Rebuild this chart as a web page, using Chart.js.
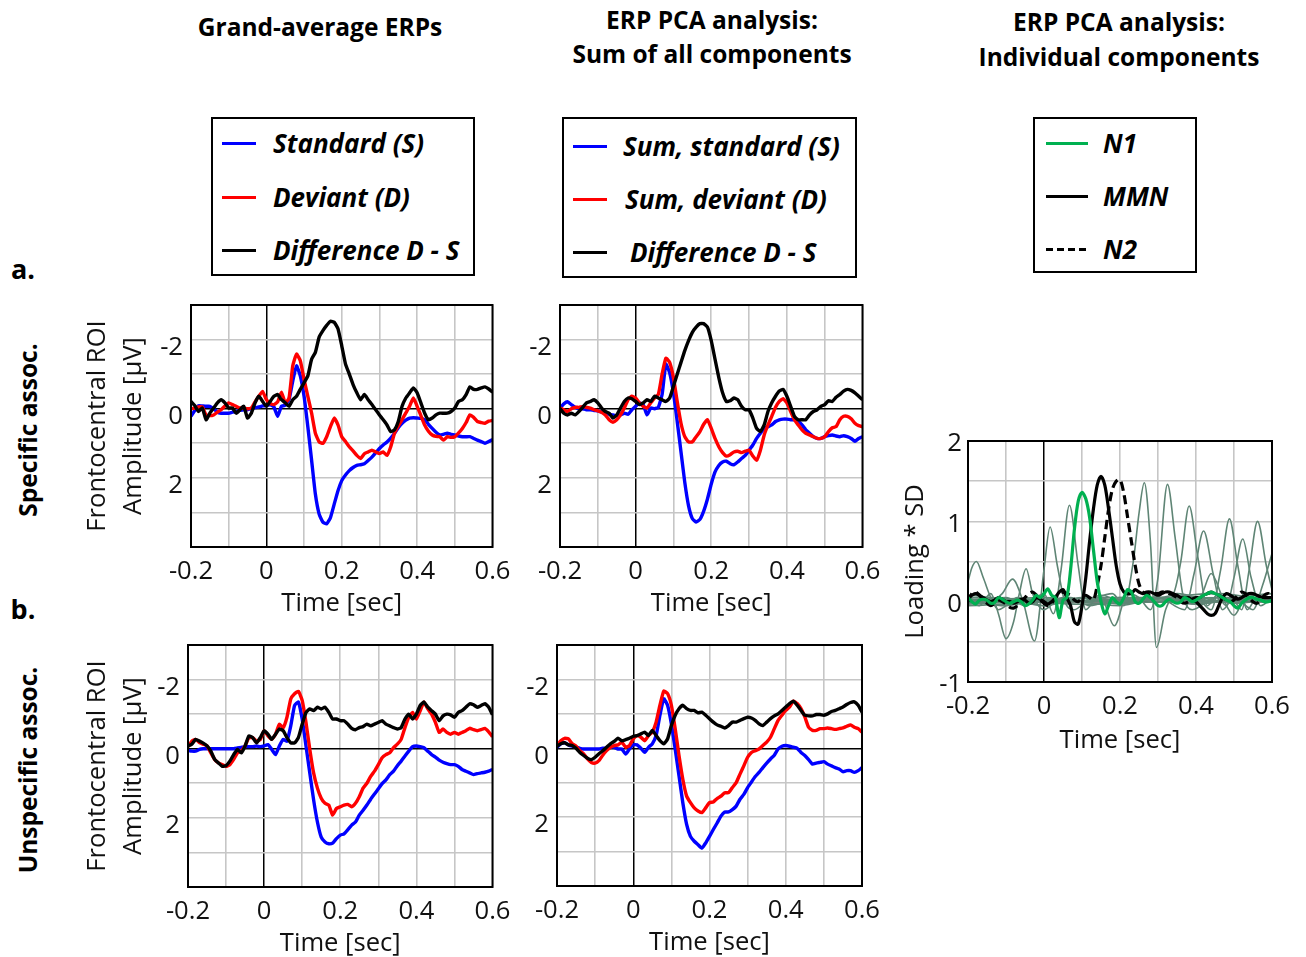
<!DOCTYPE html>
<html><head><meta charset="utf-8">
<script src="https://cdn.jsdelivr.net/npm/chart.js@4/dist/chart.umd.min.js"></script>
<style>
html,body{margin:0;padding:0;background:#fff}
body{width:1306px;height:957px;position:relative;overflow:hidden;font-family:'Open Sans',sans-serif;color:#000}
canvas{position:absolute}
.t{position:absolute;transform:translate(-50%,-50%);white-space:nowrap;font-weight:700;line-height:1;font-size:24.5px}
.lg{position:absolute;border:2px solid #000;box-sizing:border-box}
.ls{position:absolute;height:3px}
.lt{position:absolute;transform:translateY(-50%);white-space:nowrap;font-weight:700;font-style:italic;font-size:26px;line-height:1}
.rot{position:absolute;transform:translate(-50%,-50%) rotate(-90deg);white-space:nowrap;font-weight:700;font-size:24.5px;line-height:1}
</style></head><body>

<div class="t" style="left:320px;top:27px">Grand-average ERPs</div>
<div class="t" style="left:712px;top:20px">ERP PCA analysis:</div>
<div class="t" style="left:712px;top:54px">Sum of all components</div>
<div class="t" style="left:1119px;top:22px">ERP PCA analysis:</div>
<div class="t" style="left:1119px;top:57px">Individual components</div>

<div class="lg" style="left:211px;top:117px;width:264px;height:159px"></div>
<div class="ls" style="left:222px;top:142px;width:34px;background:#0000ff"></div>
<div class="lt" style="left:273px;top:143px">Standard (S)</div>
<div class="ls" style="left:222px;top:196px;width:34px;background:#ff0000"></div>
<div class="lt" style="left:273px;top:197px">Deviant (D)</div>
<div class="ls" style="left:222px;top:249px;width:34px;background:#000"></div>
<div class="lt" style="left:273px;top:250px">Difference D - S</div>

<div class="lg" style="left:562px;top:117px;width:295px;height:161px"></div>
<div class="ls" style="left:573px;top:145px;width:34px;background:#0000ff"></div>
<div class="lt" style="left:623px;top:146px">Sum, standard (S)</div>
<div class="ls" style="left:573px;top:198px;width:34px;background:#ff0000"></div>
<div class="lt" style="left:625px;top:199px">Sum, deviant (D)</div>
<div class="ls" style="left:573px;top:251px;width:34px;background:#000"></div>
<div class="lt" style="left:630px;top:252px">Difference D - S</div>

<div class="lg" style="left:1033px;top:117px;width:164px;height:156px"></div>
<div class="ls" style="left:1046px;top:142px;width:42px;background:#00b050"></div>
<div class="lt" style="left:1103px;top:143px">N1</div>
<div class="ls" style="left:1046px;top:195px;width:42px;background:#000"></div>
<div class="lt" style="left:1103px;top:196px">MMN</div>
<div class="ls" style="left:1046px;top:248px;width:42px;background:repeating-linear-gradient(to right,#000 0 7px,transparent 7px 11px)"></div>
<div class="lt" style="left:1103px;top:249px">N2</div>

<div class="t" style="left:23px;top:268px;font-size:27px">a.</div>
<div class="t" style="left:23px;top:608px;font-size:27px">b.</div>
<div class="rot" style="left:28px;top:430px">Specific assoc.</div>
<div class="rot" style="left:28px;top:770px">Unspecific assoc.</div>

<canvas id="cA" width="440" height="350" style="left:80px;top:280px"></canvas>
<canvas id="cB" width="380" height="350" style="left:510px;top:280px"></canvas>
<canvas id="cC" width="440" height="350" style="left:80px;top:620px"></canvas>
<canvas id="cD" width="383" height="349" style="left:507px;top:620px"></canvas>
<canvas id="cE" width="410" height="349" style="left:890px;top:416px"></canvas>

<script>
// ---------- time axis (sec) ----------
const times = [-0.2,-0.19,-0.18,-0.17,-0.16,-0.15,-0.14,-0.13,-0.12,-0.11,
 -0.1,-0.09,-0.08,-0.07,-0.06,-0.05,-0.04,-0.03,-0.02,-0.01,
 0,0.01,0.02,0.03,0.04,0.05,0.06,0.07,0.08,0.09,
 0.1,0.11,0.12,0.13,0.14,0.15,0.16,0.17,0.18,0.19,
 0.2,0.21,0.22,0.23,0.24,0.25,0.26,0.27,0.28,0.29,
 0.3,0.31,0.32,0.33,0.34,0.35,0.36,0.37,0.38,0.39,
 0.4,0.41,0.42,0.43,0.44,0.45,0.46,0.47,0.48,0.49,
 0.5,0.51,0.52,0.53,0.54,0.55,0.56,0.57,0.58,0.59,0.6];

// ---------- a. Specific assoc., grand-average ERPs (µV) ----------
const specGA_standard = [0.22,0.05,-0.09,-0.08,-0.07,-0.07,0.0,0.1,0.13,0.13,
 0.13,0.1,0.08,0.05,0.03,0.03,0.0,-0.03,-0.05,-0.08,
 -0.09,-0.12,-0.05,0.22,-0.07,-0.1,-0.26,-0.8,-1.24,-0.95,
 -0.36,0.52,1.49,2.47,3.05,3.28,3.33,3.15,2.76,2.37,
 2.08,1.92,1.79,1.7,1.64,1.62,1.59,1.5,1.4,1.28,
 1.15,1.05,0.96,0.85,0.71,0.55,0.42,0.33,0.27,0.26,
 0.27,0.28,0.32,0.45,0.57,0.68,0.76,0.74,0.71,0.74,
 0.76,0.79,0.81,0.81,0.81,0.86,0.91,0.95,1.0,0.95,0.89];
const specGA_deviant = [0.0,-0.02,-0.05,-0.05,0.18,0.2,0.18,0.1,0.03,-0.08,
 -0.17,-0.12,-0.07,-0.02,-0.02,0.0,-0.02,-0.2,-0.36,-0.5,
 -0.26,-0.15,-0.12,-0.2,-0.48,-0.17,-0.3,-1.24,-1.58,-1.39,
 -0.85,-0.36,0.13,0.71,0.96,1.0,0.81,0.52,0.27,0.47,
 0.81,0.95,1.1,1.22,1.35,1.44,1.3,1.25,1.2,1.25,
 1.3,1.25,1.35,1.1,0.71,0.5,0.32,0.12,-0.07,-0.31,
 -0.07,0.2,0.47,0.65,0.76,0.8,0.81,0.91,0.81,0.83,
 0.81,0.7,0.57,0.4,0.18,0.25,0.37,0.4,0.42,0.36,0.34];
const specGA_diff = [-0.21,-0.09,0.08,-0.02,0.32,0.13,-0.02,-0.17,-0.26,-0.17,
 -0.02,-0.02,0.13,0.03,-0.07,0.27,0.13,-0.17,-0.36,-0.21,
 -0.07,-0.21,-0.36,-0.41,-0.26,-0.17,-0.07,-0.26,-0.36,-0.56,
 -0.75,-0.95,-1.43,-1.63,-2.07,-2.26,-2.41,-2.53,-2.5,-2.31,
 -1.82,-1.29,-1.0,-0.7,-0.46,-0.26,-0.41,-0.26,-0.12,0.03,
 0.18,0.32,0.47,0.66,0.61,0.37,-0.07,-0.31,-0.46,-0.6,
 -0.46,-0.17,0.13,0.32,0.27,0.18,0.13,0.13,0.13,0.08,
 -0.02,-0.21,-0.26,-0.41,-0.63,-0.56,-0.56,-0.6,-0.63,-0.57,-0.48];

// ---------- a. Specific assoc., PCA sum of components (µV) ----------
const specPCA_standard = [-0.02,-0.14,-0.2,-0.12,-0.04,0.0,0.0,0.03,0.03,0.05,
 0.06,0.1,0.13,0.16,0.18,0.2,0.18,0.13,0.16,0.03,
 -0.07,-0.17,-0.12,0.18,-0.02,0.0,-0.04,-0.41,-1.29,-1.04,
 -0.46,0.37,1.25,2.13,2.81,3.18,3.28,3.2,2.96,2.61,
 2.18,1.83,1.64,1.54,1.52,1.59,1.62,1.54,1.44,1.35,
 1.2,1.05,0.86,0.71,0.57,0.52,0.47,0.37,0.32,0.3,
 0.3,0.32,0.32,0.37,0.47,0.61,0.71,0.81,0.86,0.86,
 0.81,0.78,0.76,0.79,0.81,0.78,0.81,0.86,0.94,0.86,0.81];
const specPCA_deviant = [-0.02,0.03,0.08,0.0,-0.04,-0.04,-0.06,-0.04,-0.02,0.03,
 0.06,0.1,0.18,0.32,0.39,0.32,0.18,-0.02,-0.26,-0.36,
 -0.31,-0.17,-0.07,-0.02,-0.17,-0.31,-0.41,-1.0,-1.46,-1.34,
 -0.9,-0.21,0.42,0.81,0.96,0.96,0.81,0.66,0.45,0.32,
 0.57,0.86,1.1,1.27,1.37,1.33,1.25,1.23,1.27,1.23,
 1.2,1.37,1.49,1.2,0.76,0.47,0.22,-0.04,-0.21,-0.29,
 -0.17,0.08,0.32,0.47,0.61,0.71,0.76,0.81,0.86,0.86,
 0.81,0.66,0.55,0.52,0.32,0.22,0.22,0.29,0.42,0.49,0.52];
const specPCA_diff = [0.0,0.13,0.18,0.13,0.18,0.08,-0.04,-0.17,-0.21,-0.26,
 -0.17,-0.02,0.08,0.13,0.27,0.18,-0.02,-0.21,-0.31,-0.29,
 -0.21,-0.12,-0.17,-0.26,-0.21,-0.36,-0.31,-0.26,-0.21,-0.31,
 -0.65,-1.0,-1.34,-1.68,-1.97,-2.21,-2.36,-2.46,-2.46,-2.36,
 -1.97,-1.43,-0.9,-0.46,-0.21,-0.23,-0.31,-0.26,-0.07,0.03,
 0.03,0.27,0.57,0.66,0.47,0.08,-0.17,-0.36,-0.51,-0.56,
 -0.36,-0.07,0.22,0.32,0.32,0.32,0.18,0.08,0.03,-0.07,
 -0.12,-0.23,-0.21,-0.33,-0.41,-0.51,-0.56,-0.53,-0.46,-0.36,-0.26];

// ---------- b. Unspecific assoc., grand-average ERPs (µV) ----------
const unspGA_standard = [0.05,0.07,0.07,0.02,0.0,0.0,0.0,0.0,0.0,0.0,
 0.0,0.0,0.0,-0.02,-0.04,-0.06,-0.06,-0.06,-0.08,-0.06,
 -0.08,-0.12,0.02,0.17,-0.08,-0.27,-0.22,-0.66,-1.25,-1.35,
 -0.86,-0.08,0.7,1.48,2.12,2.56,2.7,2.75,2.73,2.6,
 2.5,2.46,2.34,2.21,2.12,1.92,1.78,1.63,1.46,1.31,
 1.16,1.01,0.9,0.75,0.65,0.49,0.36,0.21,0.07,-0.06,
 -0.08,-0.06,-0.03,0.07,0.17,0.24,0.33,0.39,0.43,0.46,
 0.46,0.51,0.6,0.65,0.7,0.75,0.72,0.7,0.68,0.65,0.6];
const unspGA_deviant = [-0.06,-0.22,-0.27,-0.18,-0.13,-0.08,0.12,0.31,0.41,0.46,
 0.51,0.46,0.31,0.12,0.07,-0.08,-0.32,-0.32,-0.22,-0.27,
 -0.52,-0.37,-0.27,-0.42,-0.71,-0.61,-0.91,-1.44,-1.59,-1.66,
 -1.4,-0.76,0.02,0.7,1.14,1.43,1.58,1.63,1.92,1.73,
 1.68,1.63,1.61,1.68,1.58,1.39,1.14,1.0,0.8,0.65,
 0.46,0.26,0.17,0.12,-0.03,-0.13,-0.27,-0.61,-0.91,-1.05,
 -0.86,-1.1,-1.35,-1.15,-1.0,-0.76,-0.47,-0.57,-0.47,-0.42,
 -0.47,-0.42,-0.47,-0.52,-0.59,-0.55,-0.52,-0.55,-0.59,-0.49,-0.35];
const unspGA_diff = [-0.08,-0.13,-0.27,-0.22,-0.16,-0.08,0.07,0.31,0.41,0.51,
 0.49,0.36,0.17,0.02,0.12,-0.08,-0.37,-0.32,-0.17,-0.32,
 -0.52,-0.42,-0.27,-0.42,-0.57,-0.52,-0.32,-0.17,-0.17,-0.32,
 -0.71,-1.05,-1.15,-1.1,-1.2,-1.15,-1.2,-1.05,-0.86,-0.86,
 -0.81,-0.81,-0.71,-0.59,-0.55,-0.61,-0.64,-0.71,-0.66,-0.71,
 -0.76,-0.81,-0.71,-0.66,-0.61,-0.57,-0.61,-0.86,-1.0,-0.86,
 -1.0,-1.25,-1.35,-1.2,-1.1,-1.0,-0.81,-0.95,-1.0,-0.98,
 -0.91,-1.05,-1.1,-1.2,-1.3,-1.27,-1.2,-1.25,-1.3,-1.2,-0.98];

// ---------- b. Unspecific assoc., PCA sum of components (µV) ----------
const unspPCA_standard = [-0.03,-0.13,-0.16,-0.1,-0.06,-0.03,0.0,0.02,0.02,0.02,
 0.02,0.02,0.0,0.0,-0.03,-0.03,0.02,0.02,0.17,0.02,
 -0.1,-0.1,0.0,0.12,-0.03,-0.13,-0.37,-0.96,-1.44,-1.25,
 -0.71,0.02,0.8,1.58,2.21,2.56,2.7,2.8,2.9,2.75,
 2.56,2.36,2.17,1.97,1.85,1.85,1.78,1.68,1.48,1.34,
 1.14,0.98,0.82,0.7,0.56,0.43,0.31,0.2,0.02,-0.06,
 -0.08,-0.06,-0.03,0.0,0.12,0.21,0.33,0.46,0.43,0.41,
 0.39,0.46,0.51,0.56,0.6,0.68,0.65,0.65,0.7,0.65,0.56];
const unspPCA_deviant = [-0.08,-0.22,-0.29,-0.27,-0.13,-0.06,0.07,0.16,0.31,0.41,
 0.43,0.36,0.2,0.07,-0.03,-0.08,-0.1,-0.18,-0.03,-0.08,
 -0.27,-0.37,-0.32,-0.22,-0.37,-0.47,-0.76,-1.25,-1.66,-1.59,
 -1.25,-0.57,0.21,0.9,1.39,1.58,1.73,1.82,1.87,1.73,
 1.58,1.56,1.46,1.39,1.29,1.29,1.14,1.0,0.75,0.51,
 0.26,0.12,0.07,0.02,-0.08,-0.18,-0.32,-0.57,-0.81,-0.96,
 -1.1,-1.2,-1.37,-1.3,-1.15,-0.91,-0.61,-0.52,-0.52,-0.57,
 -0.57,-0.59,-0.57,-0.55,-0.57,-0.59,-0.64,-0.68,-0.61,-0.57,-0.47];
const unspPCA_diff = [-0.06,-0.13,-0.16,-0.1,-0.08,0.0,0.12,0.21,0.29,0.33,
 0.26,0.16,0.07,-0.03,-0.13,-0.2,-0.29,-0.22,-0.25,-0.29,
 -0.35,-0.37,-0.42,-0.47,-0.37,-0.52,-0.37,-0.22,-0.13,-0.27,
 -0.66,-0.96,-1.15,-1.25,-1.15,-1.1,-1.1,-1.03,-1.05,-0.96,
 -0.86,-0.76,-0.68,-0.64,-0.59,-0.66,-0.76,-0.76,-0.81,-0.86,
 -0.9,-0.88,-0.81,-0.71,-0.66,-0.76,-0.86,-0.94,-1.0,-1.1,
 -1.2,-1.3,-1.37,-1.25,-1.1,-0.96,-0.94,-0.94,-0.98,-0.98,
 -0.96,-1.0,-1.07,-1.1,-1.15,-1.2,-1.27,-1.33,-1.35,-1.25,-1.05];

// ---------- Individual PCA components (loading * SD) ----------
const compN1 = [0.05,0.0,-0.03,0.02,0.03,0.02,-0.02,-0.01,0.05,0.03,
 0.0,-0.02,0.0,0.02,0.0,-0.05,-0.03,0.02,0.08,0.05,
 0.1,0.16,0.08,0.05,-0.2,0.02,0.05,0.4,0.9,1.25,
 1.36,1.28,1.05,0.65,0.25,0.0,-0.15,-0.05,0.05,0.0,
 -0.03,0.05,0.15,0.12,0.0,-0.02,0.03,0.08,0.05,0.0,
 -0.05,-0.05,0.0,0.03,0.0,-0.02,0.0,0.05,0.03,0.0,
 0.02,0.05,0.08,0.1,0.12,0.1,0.08,0.05,0.02,0.0,
 -0.05,-0.08,-0.02,0.02,0.05,0.05,0.03,0.02,0.0,0.0,0.02];
const compMMN = [0.05,0.08,0.1,0.08,0.05,0.02,0.0,0.02,0.05,0.03,
 0.0,0.0,-0.02,0.0,0.03,0.02,-0.02,0.0,0.05,0.03,
 0.0,-0.03,0.0,0.05,0.12,0.15,0.05,-0.05,-0.25,-0.28,
 -0.05,0.3,0.75,1.15,1.45,1.56,1.45,1.15,0.8,0.45,
 0.22,0.12,0.1,0.1,0.15,0.12,0.1,0.12,0.12,0.1,
 0.08,0.1,0.12,0.12,0.1,0.08,0.05,0.05,0.05,0.02,
 0.0,-0.05,-0.1,-0.15,-0.17,-0.15,-0.05,0.05,0.1,0.08,
 0.05,0.03,0.05,0.08,0.1,0.1,0.08,0.06,0.05,0.05,0.05];
const compN2 = [0.0,0.1,0.12,0.08,0.02,-0.02,-0.05,-0.02,0.02,0.0,
 -0.03,-0.07,-0.08,-0.05,0.0,0.05,0.1,0.12,0.08,0.02,
 -0.02,-0.05,-0.02,0.05,0.1,0.12,0.1,0.08,0.02,0.0,
 0.05,0.08,0.05,0.02,0.2,0.45,0.8,1.15,1.4,1.5,
 1.52,1.35,1.05,0.75,0.45,0.22,0.12,0.1,0.08,0.1,
 0.1,0.12,0.12,0.1,0.08,0.05,0.0,-0.02,0.0,0.03,
 0.05,0.05,0.08,0.1,0.12,0.1,0.08,0.05,0.02,0.0,
 0.02,0.08,0.12,0.1,0.05,0.0,-0.02,0.02,0.08,0.1,0.05];

// other components: key time points (sec) and loadings
const otherT = [
 [-0.2,-0.19,-0.178,-0.16,-0.14,-0.12,-0.1,-0.07,-0.04,0.0,0.05,0.1,0.15,0.2,0.3,0.4,0.5,0.6],
 [-0.2,-0.17,-0.14,-0.12,-0.1,-0.08,-0.065,-0.047,-0.03,0.0,0.03,0.07,0.12,0.2,0.3,0.4,0.5,0.6],
 [-0.2,-0.15,-0.11,-0.083,-0.055,-0.025,0.0,0.016,0.035,0.055,0.08,0.12,0.2,0.3,0.4,0.5,0.6],
 [-0.2,-0.1,-0.05,0.0,0.025,0.045,0.067,0.09,0.11,0.14,0.2,0.3,0.4,0.5,0.6],
 [-0.2,-0.1,0.0,0.1,0.18,0.21,0.235,0.25,0.264,0.28,0.296,0.32,0.35,0.45,0.6],
 [-0.2,-0.1,0.0,0.1,0.15,0.185,0.22,0.25,0.28,0.3,0.325,0.345,0.365,0.39,0.45,0.6],
 [-0.2,0.0,0.2,0.3,0.34,0.36,0.382,0.405,0.43,0.46,0.6],
 [-0.2,0.1,0.3,0.37,0.395,0.42,0.445,0.47,0.5,0.6],
 [-0.2,0.2,0.4,0.44,0.465,0.488,0.51,0.535,0.56,0.6],
 [-0.2,0.2,0.45,0.48,0.5,0.523,0.545,0.57,0.6],
 [-0.2,0.3,0.5,0.52,0.54,0.562,0.585,0.6],
 [-0.2,0.2,0.5,0.55,0.575,0.6],
 [-0.2,0.1,0.3,0.41,0.44,0.47,0.5,0.53,0.6]
];
const otherV = [
 [0.25,0.42,0.5,0.3,0.05,-0.1,-0.05,0.05,0.0,-0.05,0.05,0.0,0.08,0.02,0.05,-0.03,0.02,0.0],
 [0.02,-0.05,0.1,-0.15,-0.46,-0.25,0.1,0.41,0.1,-0.1,0.0,0.05,-0.05,0.05,0.0,0.05,-0.02,0.03],
 [0.05,-0.02,0.1,0.28,0.0,-0.49,0.4,0.93,0.45,0.0,-0.1,0.03,-0.03,0.05,0.0,0.03,0.0],
 [0.0,0.05,-0.05,0.1,-0.15,0.4,1.2,0.45,-0.1,0.05,0.0,0.05,-0.03,0.02,0.0],
 [0.02,-0.05,0.05,0.0,0.1,-0.05,0.5,1.1,1.48,0.75,-0.57,-0.1,0.1,0.0,0.02],
 [-0.02,0.03,-0.05,0.05,0.05,-0.3,0.1,0.05,-0.1,0.3,1.46,0.8,0.1,-0.1,0.05,0.0],
 [0.0,0.05,-0.05,0.05,0.1,0.5,1.19,0.55,-0.05,0.1,0.0],
 [0.03,0.0,0.05,-0.1,0.35,0.88,0.35,-0.1,0.05,0.0],
 [-0.03,0.05,0.05,-0.1,0.4,1.03,0.45,-0.1,0.05,0.0],
 [0.05,0.0,0.1,-0.05,0.3,0.78,0.3,-0.05,0.05],
 [0.0,0.02,0.0,-0.1,0.4,1.0,0.45,0.15],
 [-0.05,0.03,0.05,-0.1,0.2,0.6],
 [0.08,-0.03,0.0,0.05,0.35,0.05,-0.17,0.05,0.1]
];

// ---------- helpers ----------
const FONT = "'Open Sans', sans-serif";
const FS = 25.6;
const pts = (xs, ys) => xs.map((x, i) => ({x: x, y: ys[i]}));
const isZero = v => Math.abs(v) < 1e-9;
const frame = {
  id: 'frame',
  afterDatasetsDraw(chart) {
    const a = chart.chartArea, ctx = chart.ctx;
    ctx.save(); ctx.strokeStyle = '#000'; ctx.lineWidth = 2;
    ctx.strokeRect(a.left, a.top, a.right - a.left, a.bottom - a.top);
    ctx.restore();
  }
};
function timeLabel(v) {
  const k = Math.round(v * 10);
  if (k % 2 !== 0) return '';
  return k === 0 ? '0' : (k / 10).toString();
}
function gridOpts() {
  return {
    color: c => isZero(c.tick.value) ? '#000' : '#c6c6c6',
    lineWidth: c => isZero(c.tick.value) ? 1.5 : 1.6,
    drawTicks: false
  };
}

function makeChart(id, box, plot, datasets, yCfg, yTitle) {
  const yW = plot.left - box.left;
  const xH = box.top + box.h - plot.bottom;
  new Chart(document.getElementById(id), {
    type: 'line',
    data: {datasets: datasets},
    plugins: [frame],
    options: {
      responsive: false, animation: false, events: [],
      layout: {padding: {left: 0, bottom: 0, top: plot.top - box.top, right: box.left + box.w - plot.right}},
      plugins: {legend: {display: false}, tooltip: {enabled: false}},
      elements: {point: {radius: 0}},
      scales: {
        x: {
          type: 'linear', min: -0.2, max: 0.6,
          afterFit: s => { s.height = xH; },
          grid: gridOpts(), border: {display: false},
          ticks: {stepSize: 0.1, autoSkip: false, maxRotation: 0, padding: 9.5, color: '#111',
                  font: {family: FONT, size: FS}, callback: timeLabel},
          title: {display: true, text: 'Time [sec]', color: '#111', font: {family: FONT, size: FS},
                  padding: {top: 0, bottom: yCfg.xTitlePad}}
        },
        y: {
          type: 'linear', min: yCfg.min, max: yCfg.max, reverse: yCfg.reverse,
          afterFit: s => { s.width = yW; },
          grid: gridOpts(), border: {display: false},
          ticks: {stepSize: yCfg.step, autoSkip: false, padding: yCfg.tickPad, labelOffset: yCfg.labelOffset,
                  color: '#111', font: {family: FONT, size: FS}, callback: yCfg.label},
          title: {display: !!yTitle, text: yTitle || '', color: '#111',
                  font: {family: FONT, size: FS, lineHeight: 1.4}, padding: {top: yCfg.yTitlePad || 0}}
        }
      }
    }
  });
}

function erpSets(std, dev, diff) {
  const base = {borderWidth: 3.4, pointRadius: 0, fill: false, tension: 0.15};
  return [
    Object.assign({label: 'Difference D - S', data: pts(times, diff), borderColor: '#000', order: 0}, base),
    Object.assign({label: 'Deviant (D)', data: pts(times, dev), borderColor: '#ff0000', order: 1}, base),
    Object.assign({label: 'Standard (S)', data: pts(times, std), borderColor: '#0000ff', order: 2}, base)
  ];
}
const erpY = {min: -3, max: 4, reverse: true, step: 1, tickPad: 8, xTitlePad: 11, labelOffset: 8,
  label: v => ([-2, 0, 2].includes(Math.round(v)) && isZero(v - Math.round(v))) ? String(Math.round(v)) : ''};
const ampTitle = ['Frontocentral ROI', 'Amplitude [\u00b5V]'];

function build() {
  makeChart('cA', {left: 80, top: 280, w: 440, h: 350}, {left: 191, top: 305, right: 496, bottom: 547},
    erpSets(specGA_standard, specGA_deviant, specGA_diff), Object.assign({yTitlePad: 0}, erpY), ampTitle);
  makeChart('cB', {left: 510, top: 280, w: 380, h: 350}, {left: 560, top: 305, right: 864, bottom: 547},
    erpSets(specPCA_standard, specPCA_deviant, specPCA_diff), erpY, null);
  makeChart('cC', {left: 80, top: 620, w: 440, h: 350}, {left: 188, top: 645, right: 493, bottom: 887},
    erpSets(unspGA_standard, unspGA_deviant, unspGA_diff), Object.assign({yTitlePad: 0}, erpY), ampTitle);
  makeChart('cD', {left: 507, top: 620, w: 383, h: 349}, {left: 557, top: 645, right: 862, bottom: 886},
    erpSets(unspPCA_standard, unspPCA_deviant, unspPCA_diff), erpY, null);

  const comps = [
    {data: pts(times, compN1), borderColor: '#00b050', borderWidth: 3.2, order: 0, tension: 0.3},
    {data: pts(times, compMMN), borderColor: '#000', borderWidth: 3.2, order: 1, tension: 0.3},
    {data: pts(times, compN2), borderColor: '#000', borderWidth: 3.2, borderDash: [9, 5], order: 2, tension: 0.3}
  ];
  otherT.forEach((t, i) => comps.push({data: pts(t, otherV[i]), borderColor: '#5f8575', borderWidth: 1.6,
    order: 3 + i, cubicInterpolationMode: 'monotone'}));
  comps.forEach(d => { d.pointRadius = 0; d.fill = false; });
  makeChart('cE', {left: 890, top: 416, w: 410, h: 349}, {left: 968, top: 441, right: 1272, bottom: 682},
    comps, {min: -1, max: 2, reverse: false, step: 0.5, tickPad: 6, xTitlePad: 9, yTitlePad: 8, labelOffset: 3,
      label: v => isZero(v - Math.round(v)) ? String(Math.round(v)) : ''}, 'Loading * SD');
}
if (document.fonts && document.fonts.load) {
  Promise.all([document.fonts.load("25px 'Open Sans'"), document.fonts.load("bold 24px 'Open Sans'"),
               document.fonts.load("italic bold 26px 'Open Sans'")]).then(build, build);
} else build();
</script>
</body></html>
